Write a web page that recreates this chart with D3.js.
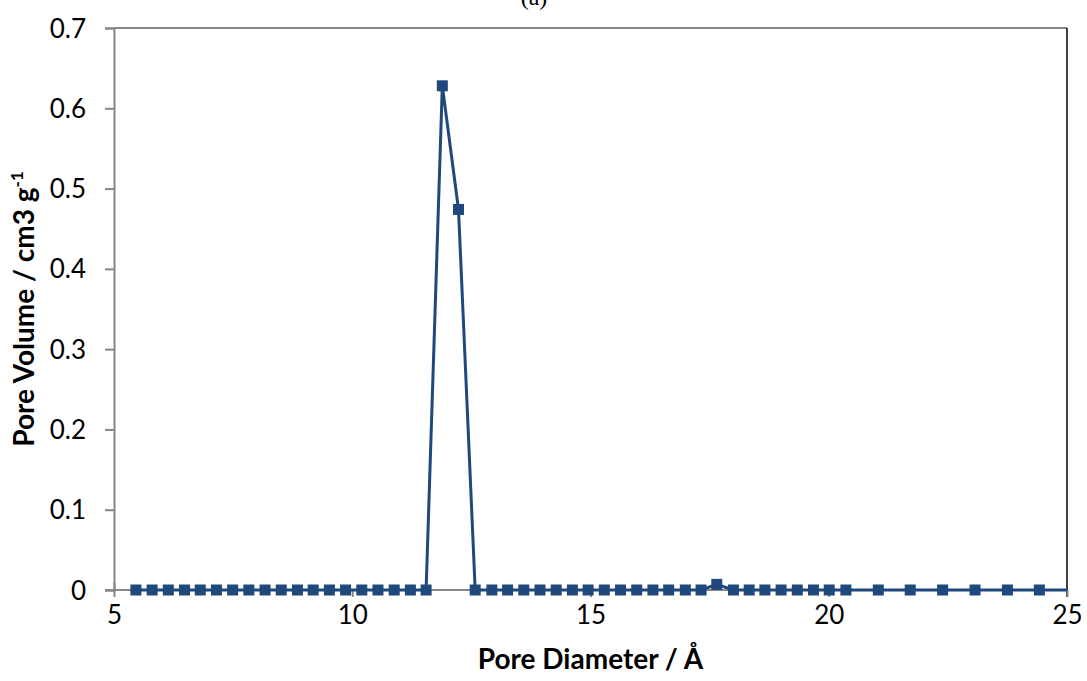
<!DOCTYPE html>
<html>
<head>
<meta charset="utf-8">
<script src="https://cdn.jsdelivr.net/npm/d3@7"></script>
<style>
  body { margin: 0; background: #fff; }
  svg { display: block; }
  text { font-family: Lato, "Open Sans", sans-serif; fill: #000; }
</style>
</head>
<body>
<svg id="chart" width="1087" height="681"></svg>
<script>
// pore size distribution
const poreDiameter = [
  5.46, 5.80, 6.14, 6.48, 6.81, 7.15, 7.49, 7.83, 8.17, 8.51,
  8.85, 9.18, 9.52, 9.86, 10.20, 10.54, 10.88, 11.22, 11.55, 11.89,
  12.23, 12.58, 12.93, 13.26, 13.60, 13.94, 14.28, 14.62, 14.95, 15.29,
  15.63, 15.97, 16.31, 16.64, 16.99, 17.32, 17.65, 18.00, 18.33, 18.66,
  19.00, 19.34, 19.68, 20.01, 20.36, 21.04, 21.71, 22.39, 23.07, 23.75,
  24.42, 25.10
];
const poreVolume = [
  0, 0, 0, 0, 0, 0, 0, 0, 0, 0,
  0, 0, 0, 0, 0, 0, 0, 0, 0, 0.628,
  0.474, 0, 0, 0, 0, 0, 0, 0, 0, 0,
  0, 0, 0, 0, 0, 0, 0.007, 0, 0, 0,
  0, 0, 0, 0, 0, 0, 0, 0, 0, 0,
  0, 0
];
const xTicks = [5, 10, 15, 20, 25];
const yTicks = [0, 0.1, 0.2, 0.3, 0.4, 0.5, 0.6, 0.7];

const data = poreDiameter.map((d, i) => ({ x: d, y: poreVolume[i] }));

const svg = d3.select('#chart');
const margin = { top: 28, right: 20, bottom: 91, left: 114 };
const width = 1067 - margin.left;
const height = 590 - margin.top;

const x = d3.scaleLinear().domain([5, 25]).range([0, width]);
const y = d3.scaleLinear().domain([0, 0.7]).range([height, 0]);

const g = svg.append('g').attr('transform', `translate(${margin.left},${margin.top})`);

svg.append('defs').append('clipPath').attr('id', 'plot')
  .append('rect').attr('x', -8).attr('y', -8).attr('width', width + 8).attr('height', height + 16);

// frame: grey top, black right
g.append('line').attr('x1', 0).attr('x2', width).attr('y1', 0).attr('y2', 0)
  .attr('stroke', '#868686').attr('stroke-width', 2);
g.append('line').attr('x1', width).attr('x2', width).attr('y1', 0).attr('y2', height + 7)
  .attr('stroke', '#000').attr('stroke-width', 1.5);

// axes
const xAxis = g.append('g').attr('transform', `translate(0,${height})`)
  .call(d3.axisBottom(x).tickValues(xTicks).tickSize(7).tickPadding(9).tickFormat(d3.format('d')));
const yAxis = g.append('g')
  .call(d3.axisLeft(y).tickValues(yTicks).tickSize(9).tickPadding(19)
    .tickFormat(d => d === 0 ? '0' : d3.format('.1f')(d)));

[xAxis, yAxis].forEach(a => {
  a.select('.domain').attr('stroke', '#868686').attr('stroke-width', 2);
  a.selectAll('.tick line').attr('stroke', '#868686').attr('stroke-width', 2);
  a.selectAll('.tick text').style('font-size', '26px').attr('fill', '#000')
    .style('font-family', 'Lato, "Open Sans", sans-serif');
});
yAxis.selectAll('.tick text').attr('dy', '0.35em');
// first x tick crosses the axis
xAxis.select('.tick line').attr('y1', -7);
xAxis.select('.domain').attr('d', `M-9,0H${width}`);

// series
const plot = g.append('g').attr('clip-path', 'url(#plot)');
plot.append('path')
  .datum(data)
  .attr('fill', 'none')
  .attr('stroke', '#1F497D')
  .attr('stroke-width', 3)
  .attr('stroke-linejoin', 'round')
  .attr('d', d3.line().x(d => x(d.x)).y(d => y(d.y)));

plot.selectAll('.marker')
  .data(data.filter(d => d.x <= 25))
  .enter().append('rect')
  .attr('class', 'marker')
  .attr('x', d => x(d.x) - 5.5)
  .attr('y', d => y(d.y) - 5.5)
  .attr('width', 11)
  .attr('height', 11)
  .attr('fill', '#1F497D');

// titles
svg.append('text')
  .attr('x', margin.left + width / 2)
  .attr('y', 669)
  .attr('text-anchor', 'middle')
  .style('font-size', '28px')
  .style('font-weight', 'bold')
  .text('Pore Diameter / Å');

const yl = svg.append('text')
  .attr('transform', `translate(34,${margin.top + height / 2}) rotate(-90)`)
  .attr('text-anchor', 'middle')
  .style('font-size', '28px')
  .style('font-weight', 'bold');
yl.append('tspan').text('Pore Volume / cm3 g');
yl.append('tspan').attr('dy', -11).style('font-size', '17px').text('-1');

// panel label, cut off at the top
svg.append('text')
  .attr('x', 534)
  .attr('y', 5)
  .attr('text-anchor', 'middle')
  .style('font-family', '"Liberation Serif", serif')
  .style('font-size', '24px')
  .text('(a)');
</script>
</body>
</html>
